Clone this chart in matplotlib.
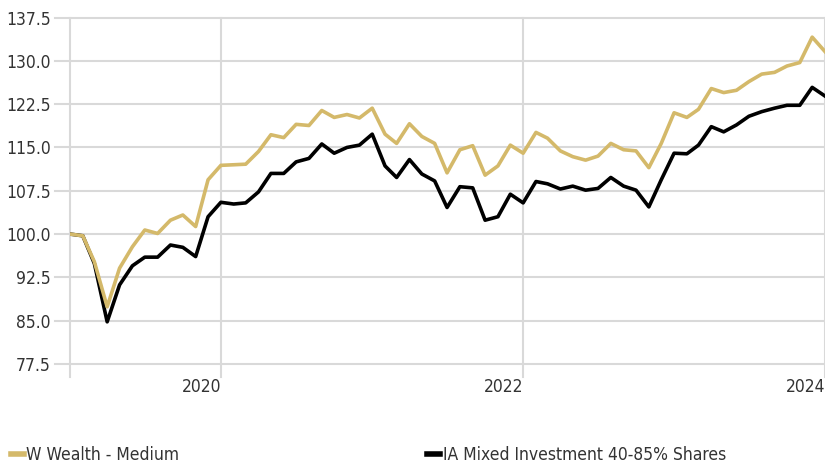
import pandas as pd
import numpy as np
import matplotlib
matplotlib.use('Agg')
import matplotlib.pyplot as plt
from matplotlib import font_manager as fm

# Dữ liệu tăng trưởng (chỉ số 100 tại 01/2019)
months = pd.date_range('2019-01-01', periods=61, freq='MS')

w_wealth = [100.0, 99.7, 95.2, 87.4, 94.1, 97.8, 100.7, 100.1, 102.4, 103.3,
            101.3, 109.4, 111.9, 112.0, 112.1, 114.3, 117.2, 116.7, 119.0, 118.8,
            121.4, 120.2, 120.7, 120.1, 121.8, 117.3, 115.7, 119.1, 116.9, 115.7,
            110.6, 114.6, 115.3, 110.2, 111.8, 115.4, 114.0, 117.6, 116.6, 114.4,
            113.4, 112.8, 113.5, 115.7, 114.6, 114.4, 111.5, 115.7, 121.0, 120.2,
            121.6, 125.2, 124.5, 124.9, 126.4, 127.7, 128.0, 129.1, 129.7, 134.1,
            131.6]

ia_mixed = [100.0, 99.7, 94.9, 84.8, 91.2, 94.5, 96.0, 96.0, 98.1, 97.7,
            96.1, 103.0, 105.5, 105.2, 105.4, 107.3, 110.5, 110.5, 112.5, 113.1,
            115.6, 114.0, 115.0, 115.4, 117.3, 111.8, 109.8, 112.9, 110.4, 109.2,
            104.6, 108.2, 108.0, 102.4, 103.0, 106.9, 105.4, 109.1, 108.7, 107.8,
            108.3, 107.6, 107.9, 109.8, 108.3, 107.6, 104.7, 109.4, 114.0, 113.9,
            115.4, 118.6, 117.7, 118.9, 120.4, 121.2, 121.8, 122.3, 122.3, 125.4,
            123.9]

y_ticks = [77.5, 85.0, 92.5, 100.0, 107.5, 115.0, 122.5, 130.0, 137.5]
x_ticks = pd.to_datetime(['2020-01-01', '2022-01-01', '2024-01-01'])
x_labels = ['2020', '2022', '2024']

gold = '#D4B96A'
grid_col = '#D9D9D9'
text_col = '#333333'

# Tìm một font hẹp (narrow/condensed) nếu có
narrow = None
for f in fm.fontManager.ttflist:
    fn = f.fname.lower()
    if ('narrow' in fn or 'condensed' in fn) and 'bold' not in fn and 'oblique' not in fn and 'italic' not in fn:
        narrow = f
        break
if narrow is not None:
    plt.rcParams['font.family'] = [narrow.name, 'DejaVu Sans']
    plt.rcParams['font.stretch'] = narrow.stretch
    fsize = 14 if 'narrow' in narrow.fname.lower() else 12.5
else:
    plt.rcParams['font.family'] = ['Roboto', 'DejaVu Sans']
    fsize = 12

fig = plt.figure(figsize=(8.25, 4.67), dpi=100)
ax = fig.add_axes([0.0848, 0.2206, 0.9152, 0.7419])

# Lưới ngang kéo dài sang trái, lưới dọc kéo dài xuống dưới
for y in y_ticks:
    ax.axhline(y, xmin=-0.02, xmax=1, color=grid_col, lw=1.5, clip_on=False, zorder=0)
for x in [months[0]] + list(x_ticks):
    ax.axvline(x, ymin=-0.0375, ymax=1, color=grid_col, lw=1.5, clip_on=False, zorder=0)

ax.plot(months, w_wealth, color=gold, lw=2.6, label='W Wealth - Medium', zorder=3)
ax.plot(months, ia_mixed, color='black', lw=2.6, label='IA Mixed Investment 40-85% Shares', zorder=2)

ax.set_xlim(months[0], months[-1])
ax.set_ylim(77.5, 137.5)
ax.set_yticks(y_ticks, [f'{v:.1f}' for v in y_ticks])
ax.set_xticks(x_ticks, x_labels)
for lab in ax.get_xticklabels():
    lab.set_ha('right')
ax.tick_params(axis='both', length=0, labelsize=fsize, colors=text_col)
ax.tick_params(axis='y', pad=14)
ax.tick_params(axis='x', pad=10)
for s in ax.spines.values():
    s.set_visible(False)

leg = fig.legend(loc='lower left', bbox_to_anchor=(0.005, -0.009), ncol=2, frameon=False,
                 fontsize=fsize, handlelength=0.72, handletextpad=0.15, columnspacing=14.3,
                 borderaxespad=0, labelcolor=text_col)
for h in leg.legend_handles:
    h.set_linewidth(4)

fig.savefig('out.png', dpi=100)
